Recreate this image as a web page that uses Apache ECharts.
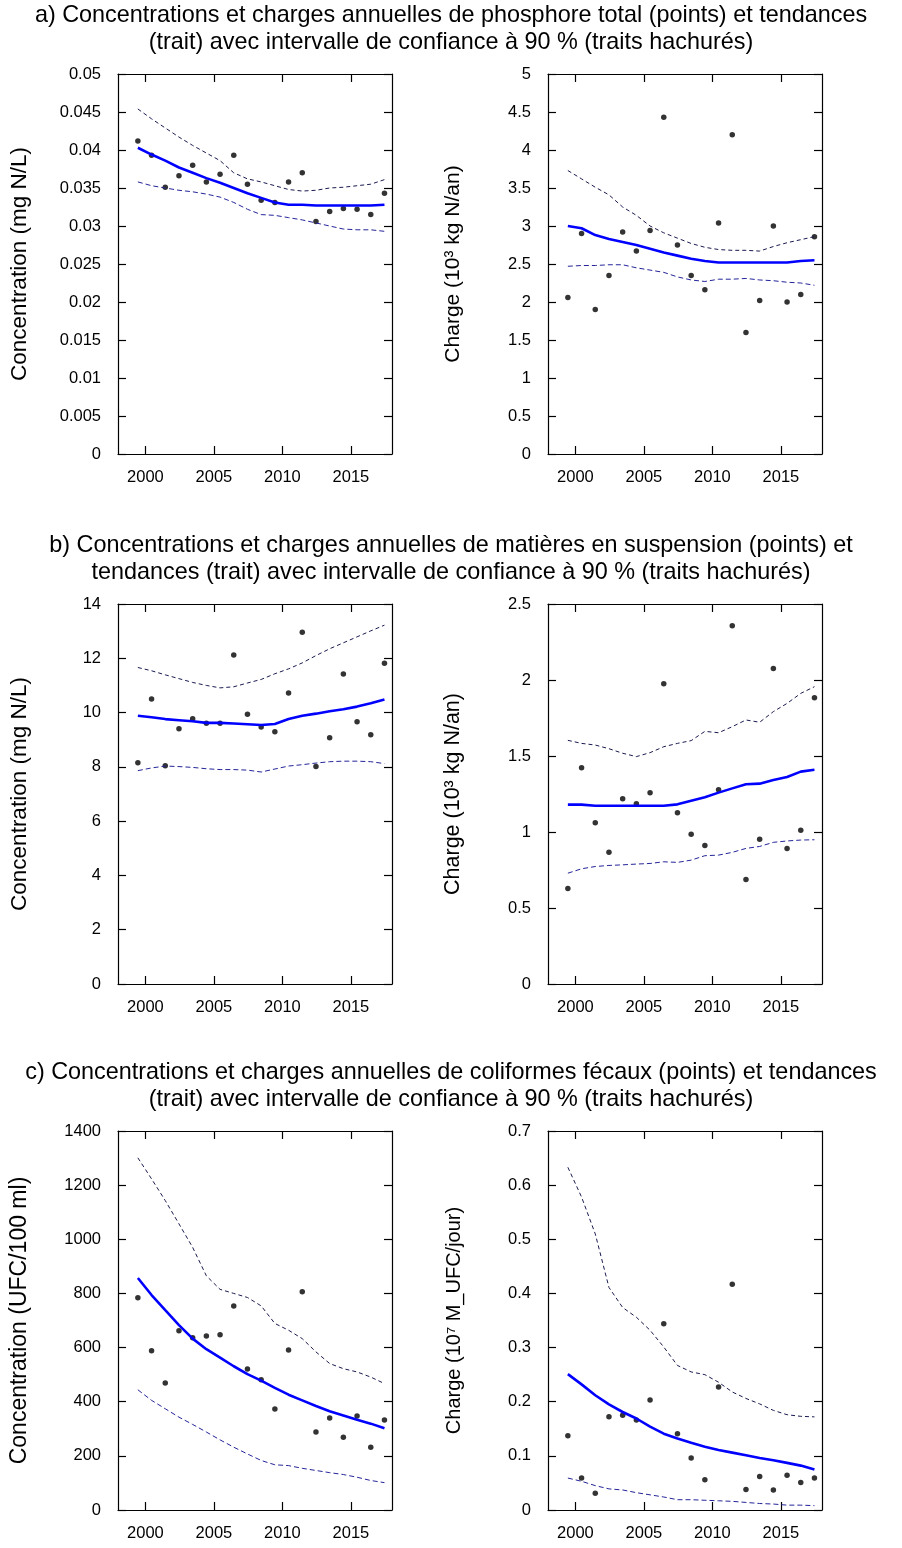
<!DOCTYPE html>
<html>
<head>
<meta charset="utf-8">
<script src="https://cdn.jsdelivr.net/npm/echarts@6/dist/echarts.min.js"></script>
<style>
html,body{margin:0;padding:0;background:#fff;}
#chart{width:902px;height:1548px;}
</style>
</head>
<body>
<div id="chart"></div>
<script>
// Decimal year of each annual point (points are drawn near mid-year)
const years = [1999.45,2000.45,2001.45,2002.45,2003.45,2004.45,2005.45,2006.45,2007.45,2008.45,2009.45,2010.45,2011.45,2012.45,2013.45,2014.45,2015.45,2016.45,2017.45];
const xTicks = [2000, 2005, 2010, 2015];

const titles = [
  "a) Concentrations et charges annuelles de phosphore total (points) et tendances\n(trait) avec intervalle de confiance à 90 % (traits hachurés)",
  "b) Concentrations et charges annuelles de matières en suspension (points) et\ntendances (trait) avec intervalle de confiance à 90 % (traits hachurés)",
  "c) Concentrations et charges annuelles de coliformes fécaux (points) et tendances\n(trait) avec intervalle de confiance à 90 % (traits hachurés)"
];

// Panel a) left : phosphore total concentration
const aConcPts   = [0.0412,0.0393,0.0351,0.0366,0.0380,0.0358,0.0368,0.0393,0.0355,0.0334,0.0331,0.0358,0.0370,0.0306,0.0319,0.0323,0.0322,0.0315,0.0343];
const aConcTrend = [0.0403,0.0394,0.0386,0.0377,0.0370,0.0363,0.0357,0.0350,0.0343,0.0337,0.0331,0.0328,0.0328,0.0327,0.0327,0.0327,0.0327,0.0327,0.0328];
const aConcUp    = [0.0454,0.0441,0.0429,0.0417,0.0406,0.0396,0.0386,0.0370,0.0362,0.0358,0.0353,0.0348,0.0346,0.0347,0.0350,0.0351,0.0353,0.0355,0.0361];
const aConcLo    = [0.0358,0.0353,0.0350,0.0347,0.0345,0.0342,0.0338,0.0331,0.0322,0.0315,0.0314,0.0311,0.0308,0.0304,0.0300,0.0296,0.0295,0.0295,0.0293];
// Panel a) right : phosphore total charge
const aLoadPts   = [2.06,2.90,1.90,2.35,2.92,2.67,2.94,4.43,2.75,2.35,2.16,3.04,4.20,1.60,2.02,3.00,2.00,2.10,2.86];
const aLoadTrend = [3.00,2.97,2.88,2.83,2.79,2.75,2.70,2.65,2.61,2.57,2.54,2.52,2.52,2.52,2.52,2.52,2.52,2.54,2.55];
const aLoadUp    = [3.73,3.62,3.51,3.41,3.25,3.14,3.00,2.91,2.84,2.77,2.72,2.69,2.68,2.68,2.67,2.73,2.78,2.82,2.86];
const aLoadLo    = [2.47,2.48,2.48,2.49,2.49,2.45,2.42,2.39,2.33,2.29,2.27,2.30,2.30,2.31,2.29,2.28,2.26,2.25,2.22];

// Panel b) left : matières en suspension concentration
const bConcPts   = [8.15,10.50,8.04,9.40,9.77,9.61,9.61,12.12,9.94,9.47,9.29,10.72,12.96,8.01,9.07,11.42,9.66,9.18,11.82];
const bConcTrend = [9.88,9.83,9.76,9.72,9.68,9.62,9.62,9.60,9.57,9.54,9.58,9.76,9.88,9.96,10.05,10.12,10.22,10.34,10.48];
const bConcUp    = [11.66,11.54,11.39,11.25,11.11,11.00,10.91,10.95,11.09,11.22,11.43,11.61,11.83,12.10,12.35,12.57,12.79,13.01,13.22];
const bConcLo    = [7.86,7.96,8.03,8.01,7.98,7.93,7.90,7.90,7.88,7.81,7.92,8.03,8.08,8.14,8.19,8.21,8.21,8.19,8.12];
// Panel b) right : matières en suspension charge
const bLoadPts   = [0.628,1.423,1.061,0.866,1.219,1.186,1.259,1.976,1.127,0.985,0.912,1.278,2.357,0.687,0.952,2.075,0.892,1.011,1.884];
const bLoadTrend = [1.180,1.180,1.173,1.173,1.173,1.173,1.173,1.173,1.182,1.206,1.228,1.259,1.287,1.314,1.318,1.342,1.362,1.397,1.410];
const bLoadUp    = [1.603,1.583,1.572,1.548,1.518,1.496,1.522,1.561,1.583,1.601,1.662,1.653,1.693,1.737,1.722,1.792,1.846,1.912,1.956];
const bLoadLo    = [0.729,0.758,0.773,0.780,0.784,0.789,0.793,0.804,0.800,0.815,0.844,0.848,0.866,0.892,0.905,0.932,0.941,0.947,0.949];

// Panel c) left : coliformes fécaux concentration
const cConcPts   = [784,588,469,662,636,643,647,754,521,481,373,591,806,288,340,269,347,232,332];
const cConcTrend = [857,794,738,683,633,594,563,531,502,478,451,426,405,384,365,349,333,319,302];
const cConcUp    = [1301,1223,1143,1057,970,865,815,800,785,754,689,664,633,584,541,522,510,491,467];
const cConcLo    = [444,405,374,343,316,288,259,232,207,183,167,164,154,146,138,131,121,109,101];
// Panel c) right : coliformes fécaux charge
const cLoadPts   = [0.137,0.059,0.031,0.172,0.175,0.166,0.203,0.344,0.141,0.096,0.056,0.227,0.417,0.038,0.062,0.037,0.064,0.051,0.059];
const cLoadTrend = [0.251,0.232,0.212,0.195,0.181,0.169,0.154,0.141,0.132,0.124,0.117,0.111,0.106,0.101,0.096,0.092,0.087,0.082,0.075];
const cLoadUp    = [0.633,0.578,0.510,0.411,0.374,0.356,0.332,0.301,0.267,0.255,0.250,0.236,0.218,0.206,0.196,0.184,0.176,0.173,0.172];
const cLoadLo    = [0.059,0.053,0.045,0.039,0.037,0.032,0.028,0.024,0.019,0.019,0.018,0.017,0.016,0.014,0.012,0.011,0.009,0.009,0.008];

const yAxisNames = [
  "Concentration (mg N/L)", "Charge (10³ kg N/an)",
  "Concentration (mg N/L)", "Charge (10³ kg N/an)",
  "Concentration (UFC/100 ml)", "Charge (10⁷ M_UFC/jour)"
];
const yRanges = [
  [0, 0.05, 0.005], [0, 5, 0.5],
  [0, 14, 2], [0, 2.5, 0.5],
  [0, 1400, 200], [0, 0.7, 0.1]
];
const panelData = [
  [aConcPts, aConcTrend, aConcUp, aConcLo],
  [aLoadPts, aLoadTrend, aLoadUp, aLoadLo],
  [bConcPts, bConcTrend, bConcUp, bConcLo],
  [bLoadPts, bLoadTrend, bLoadUp, bLoadLo],
  [cConcPts, cConcTrend, cConcUp, cConcLo],
  [cLoadPts, cLoadTrend, cLoadUp, cLoadLo]
];

const FONT = "'Liberation Sans', Arial, sans-serif";
const gridLefts = [118, 548];
const gridTops = [74, 604, 1131];
const gridH = [380, 380, 379];
const gridW = 274;
const nameSizes = [22.5, 21, 22.5, 21.5, 23, 20];
const nameGaps = [87, 84, 87, 84, 87, 84];

const chart = echarts.init(document.getElementById('chart'), null, {renderer: 'canvas'});

const grid = [], xAxis = [], yAxis = [], series = [];
const pair = v => years.map((y, i) => [y, v[i]]);

function fmtY(v) {
  return String(Math.round(v * 10000) / 10000);
}

for (let p = 0; p < 6; p++) {
  const row = Math.floor(p / 2), col = p % 2;
  grid.push({left: gridLefts[col], top: gridTops[row], width: gridW, height: gridH[row], containLabel: false});
  const lineStyle = {color: '#000', width: 1.2};
  const tick = {show: true, inside: true, length: 8, lineStyle: {color: '#000', width: 1.2}};
  xAxis.push({
    gridIndex: p, type: 'value', min: 1998, max: 2018, position: 'bottom',
    axisLine: {show: true, onZero: false, lineStyle},
    axisTick: {...tick, customValues: xTicks},
    axisLabel: {show: true, customValues: xTicks, color: '#000', fontSize: 16.5, fontFamily: FONT, margin: 15,
                formatter: v => String(v)},
    splitLine: {show: false}
  });
  xAxis.push({
    gridIndex: p, type: 'value', min: 1998, max: 2018, position: 'top',
    axisLine: {show: true, onZero: false, lineStyle},
    axisTick: {...tick, customValues: xTicks},
    axisLabel: {show: false, customValues: xTicks},
    splitLine: {show: false}
  });
  const [ymin, ymax, yint] = yRanges[p];
  yAxis.push({
    gridIndex: p, type: 'value', min: ymin, max: ymax, interval: yint, position: 'left',
    name: yAxisNames[p], nameLocation: 'middle', nameGap: nameGaps[p],
    nameTextStyle: {color: '#000', fontSize: nameSizes[p], fontFamily: FONT},
    axisLine: {show: true, onZero: false, lineStyle},
    axisTick: tick,
    axisLabel: {color: '#000', fontSize: 16.5, fontFamily: FONT, margin: 17, formatter: fmtY},
    splitLine: {show: false}
  });
  yAxis.push({
    gridIndex: p, type: 'value', min: ymin, max: ymax, interval: yint, position: 'right',
    axisLine: {show: true, onZero: false, lineStyle},
    axisTick: tick,
    axisLabel: {show: false},
    splitLine: {show: false}
  });
  const [pts, trend, up, lo] = panelData[p];
  const xi = p * 2, yi = p * 2;
  series.push({
    type: 'line', xAxisIndex: xi, yAxisIndex: yi, data: pair(up), showSymbol: false, symbol: 'none',
    lineStyle: {color: '#1a1a50', width: 1, type: [4, 3]}, silent: true, animation: false
  });
  series.push({
    type: 'line', xAxisIndex: xi, yAxisIndex: yi, data: pair(lo), showSymbol: false, symbol: 'none',
    lineStyle: {color: '#24249a', width: 1, type: [5, 3]}, silent: true, animation: false
  });
  series.push({
    type: 'line', xAxisIndex: xi, yAxisIndex: yi, data: pair(trend), showSymbol: false, symbol: 'none',
    lineStyle: {color: '#0000ff', width: 2.6}, silent: true, animation: false
  });
  series.push({
    type: 'scatter', xAxisIndex: xi, yAxisIndex: yi, data: pair(pts), symbol: 'circle', symbolSize: 5.5,
    itemStyle: {color: '#000'}, silent: true, animation: false
  });
}

const titleTops = [2, 532, 1059];
const title = titles.map((t, i) => ({
  text: t, left: 'center', top: titleTops[i], padding: 0,
  textStyle: {color: '#000', fontSize: 23.4, fontWeight: 'normal', fontFamily: FONT, lineHeight: 27, align: 'center'}
}));

chart.setOption({
  animation: false,
  backgroundColor: '#fff',
  title, grid, xAxis, yAxis, series
});
</script>
</body>
</html>
